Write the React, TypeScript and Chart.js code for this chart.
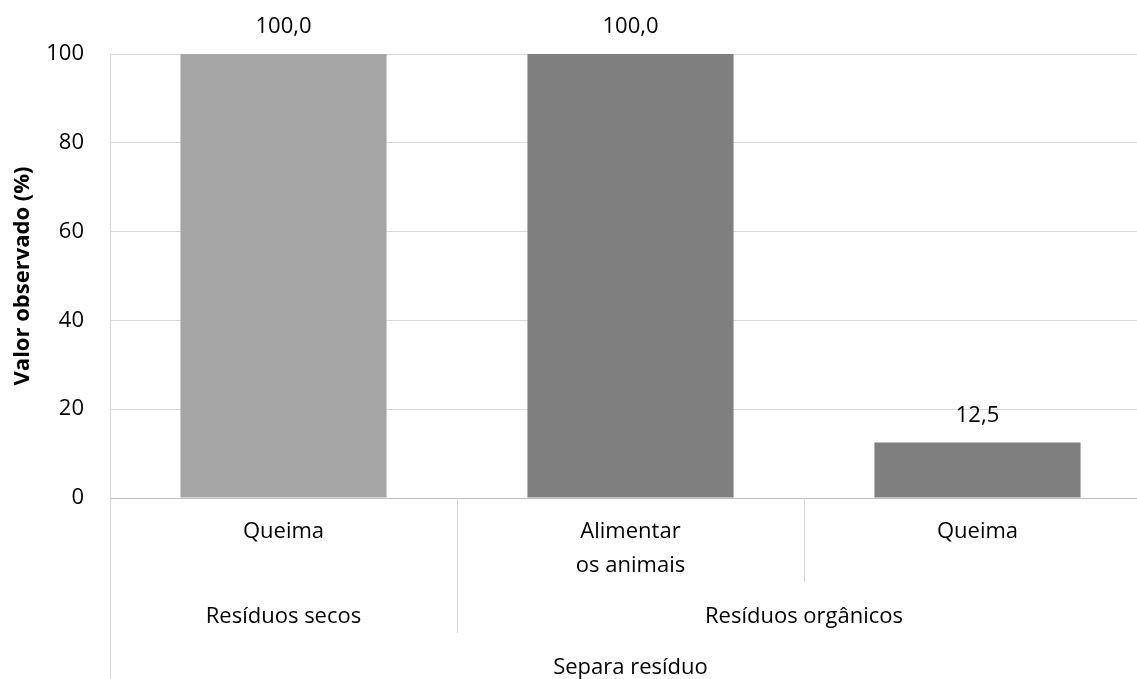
import React, { useEffect, useRef } from "react";
import { Chart, registerables } from "chart.js";

Chart.register(...registerables);

const categoryLabels: string[][] = [["Queima"], ["Alimentar", "os animais"], ["Queima"]];
const groupLabels: string[] = ["Resíduos secos", "Resíduos orgânicos"];
const groupSizes: number[] = [1, 2];
const topLabel = "Separa resíduo";
const values: number[] = [100, 100, 12.5];
const yTicks: number[] = [0, 20, 40, 60, 80, 100];
const yTitle = "Valor observado (%)";

const FONT = "'Open Sans', 'DejaVu Sans', sans-serif";
const W = 1151;
const H = 679;

export default function App() {
  const ref = useRef<HTMLCanvasElement | null>(null);

  useEffect(() => {
    document.documentElement.style.overflow = "hidden";
    document.body.style.overflow = "hidden";
    const canvas = ref.current!;
    const fmt = (v: number) => v.toFixed(1).replace(".", ",");

    const labelsPlugin = {
      id: "customLabels",
      afterDatasetsDraw(chart: any) {
        const ctx = chart.ctx;
        const meta = chart.getDatasetMeta(0);
        ctx.save();
        ctx.font = `22px ${FONT}`;
        ctx.fillStyle = "#000000";
        ctx.textAlign = "center";
        ctx.textBaseline = "middle";
        meta.data.forEach((bar: any, i: number) => {
          ctx.fillText(fmt(values[i]), bar.x, bar.y - 27);
        });
        ctx.restore();
      },
      afterDraw(chart: any) {
        const ctx = chart.ctx;
        const area = chart.chartArea;
        const xs = chart.scales.x;
        const n = categoryLabels.length;
        const step = (area.right - area.left) / n;
        const bottom = area.bottom;
        ctx.save();
        ctx.strokeStyle = "#bfbfbf";
        ctx.lineWidth = 1;
        ctx.beginPath();
        ctx.moveTo(area.left, Math.round(bottom) + 0.5);
        ctx.lineTo(area.right, Math.round(bottom) + 0.5);
        ctx.stroke();
        ctx.strokeStyle = "#d9d9d9";
        ctx.beginPath();
        ctx.moveTo(Math.round(area.left) + 0.5, bottom);
        ctx.lineTo(Math.round(area.left) + 0.5, H);
        ctx.stroke();
        const groupEnds = new Set<number>();
        let acc = 0;
        groupSizes.forEach((s) => {
          acc += s;
          groupEnds.add(acc);
        });
        for (let i = 1; i <= n; i++) {
          const x = Math.round(area.left + step * i) + 0.5;
          const yEnd = groupEnds.has(i) ? bottom + 135 : bottom + 84;
          ctx.beginPath();
          ctx.moveTo(x, bottom);
          ctx.lineTo(x, yEnd);
          ctx.stroke();
        }
        ctx.font = `22px ${FONT}`;
        ctx.fillStyle = "#000000";
        ctx.textAlign = "center";
        ctx.textBaseline = "middle";
        categoryLabels.forEach((lines, i) => {
          const cx = xs.getPixelForValue(i);
          lines.forEach((t, k) => ctx.fillText(t, cx, bottom + 34 + k * 34));
        });
        let start = 0;
        groupLabels.forEach((g, gi) => {
          const x0 = area.left + step * start;
          const x1 = area.left + step * (start + groupSizes[gi]);
          ctx.fillText(g, (x0 + x1) / 2, bottom + 119);
          start += groupSizes[gi];
        });
        ctx.fillText(topLabel, (area.left + area.right) / 2, bottom + 170);
        ctx.restore();
      },
    };

    const chart = new Chart(canvas, {
      type: "bar",
      data: {
        labels: categoryLabels.map((l) => l.join(" ")),
        datasets: [
          {
            data: values,
            backgroundColor: ["#a6a6a6", "#7f7f7f", "#7f7f7f"],
            borderWidth: 0,
            categoryPercentage: 1,
            barPercentage: 0.594,
          },
        ],
      },
      options: {
        responsive: false,
        animation: false,
        devicePixelRatio: 1,
        layout: { padding: { top: 54, bottom: 181, left: 0, right: 0 } },
        plugins: { legend: { display: false }, tooltip: { enabled: false } },
        scales: {
          x: { display: false },
          y: {
            min: 0,
            max: 100,
            afterBuildTicks: (s: any) => {
              s.ticks = yTicks.map((v) => ({ value: v }));
            },
            afterFit: (s: any) => {
              s.width = 110;
            },
            ticks: {
              font: { family: FONT, size: 22 },
              color: "#000000",
              padding: 26,
            },
            grid: { color: "#d9d9d9", drawTicks: false },
            border: { display: true, color: "#d9d9d9" },
            title: {
              display: true,
              text: yTitle,
              font: { family: FONT, size: 22, weight: "bold" },
              color: "#000000",
              padding: { top: 10, bottom: 0 },
            },
          },
        },
      },
      plugins: [labelsPlugin],
    });
    return () => chart.destroy();
  }, []);

  return (
    <div style={{ position: "fixed", left: 0, top: 0, width: W, height: H, background: "#fff" }}>
      <canvas ref={ref} width={W} height={H} style={{ width: W, height: H, display: "block" }} />
    </div>
  );
}
